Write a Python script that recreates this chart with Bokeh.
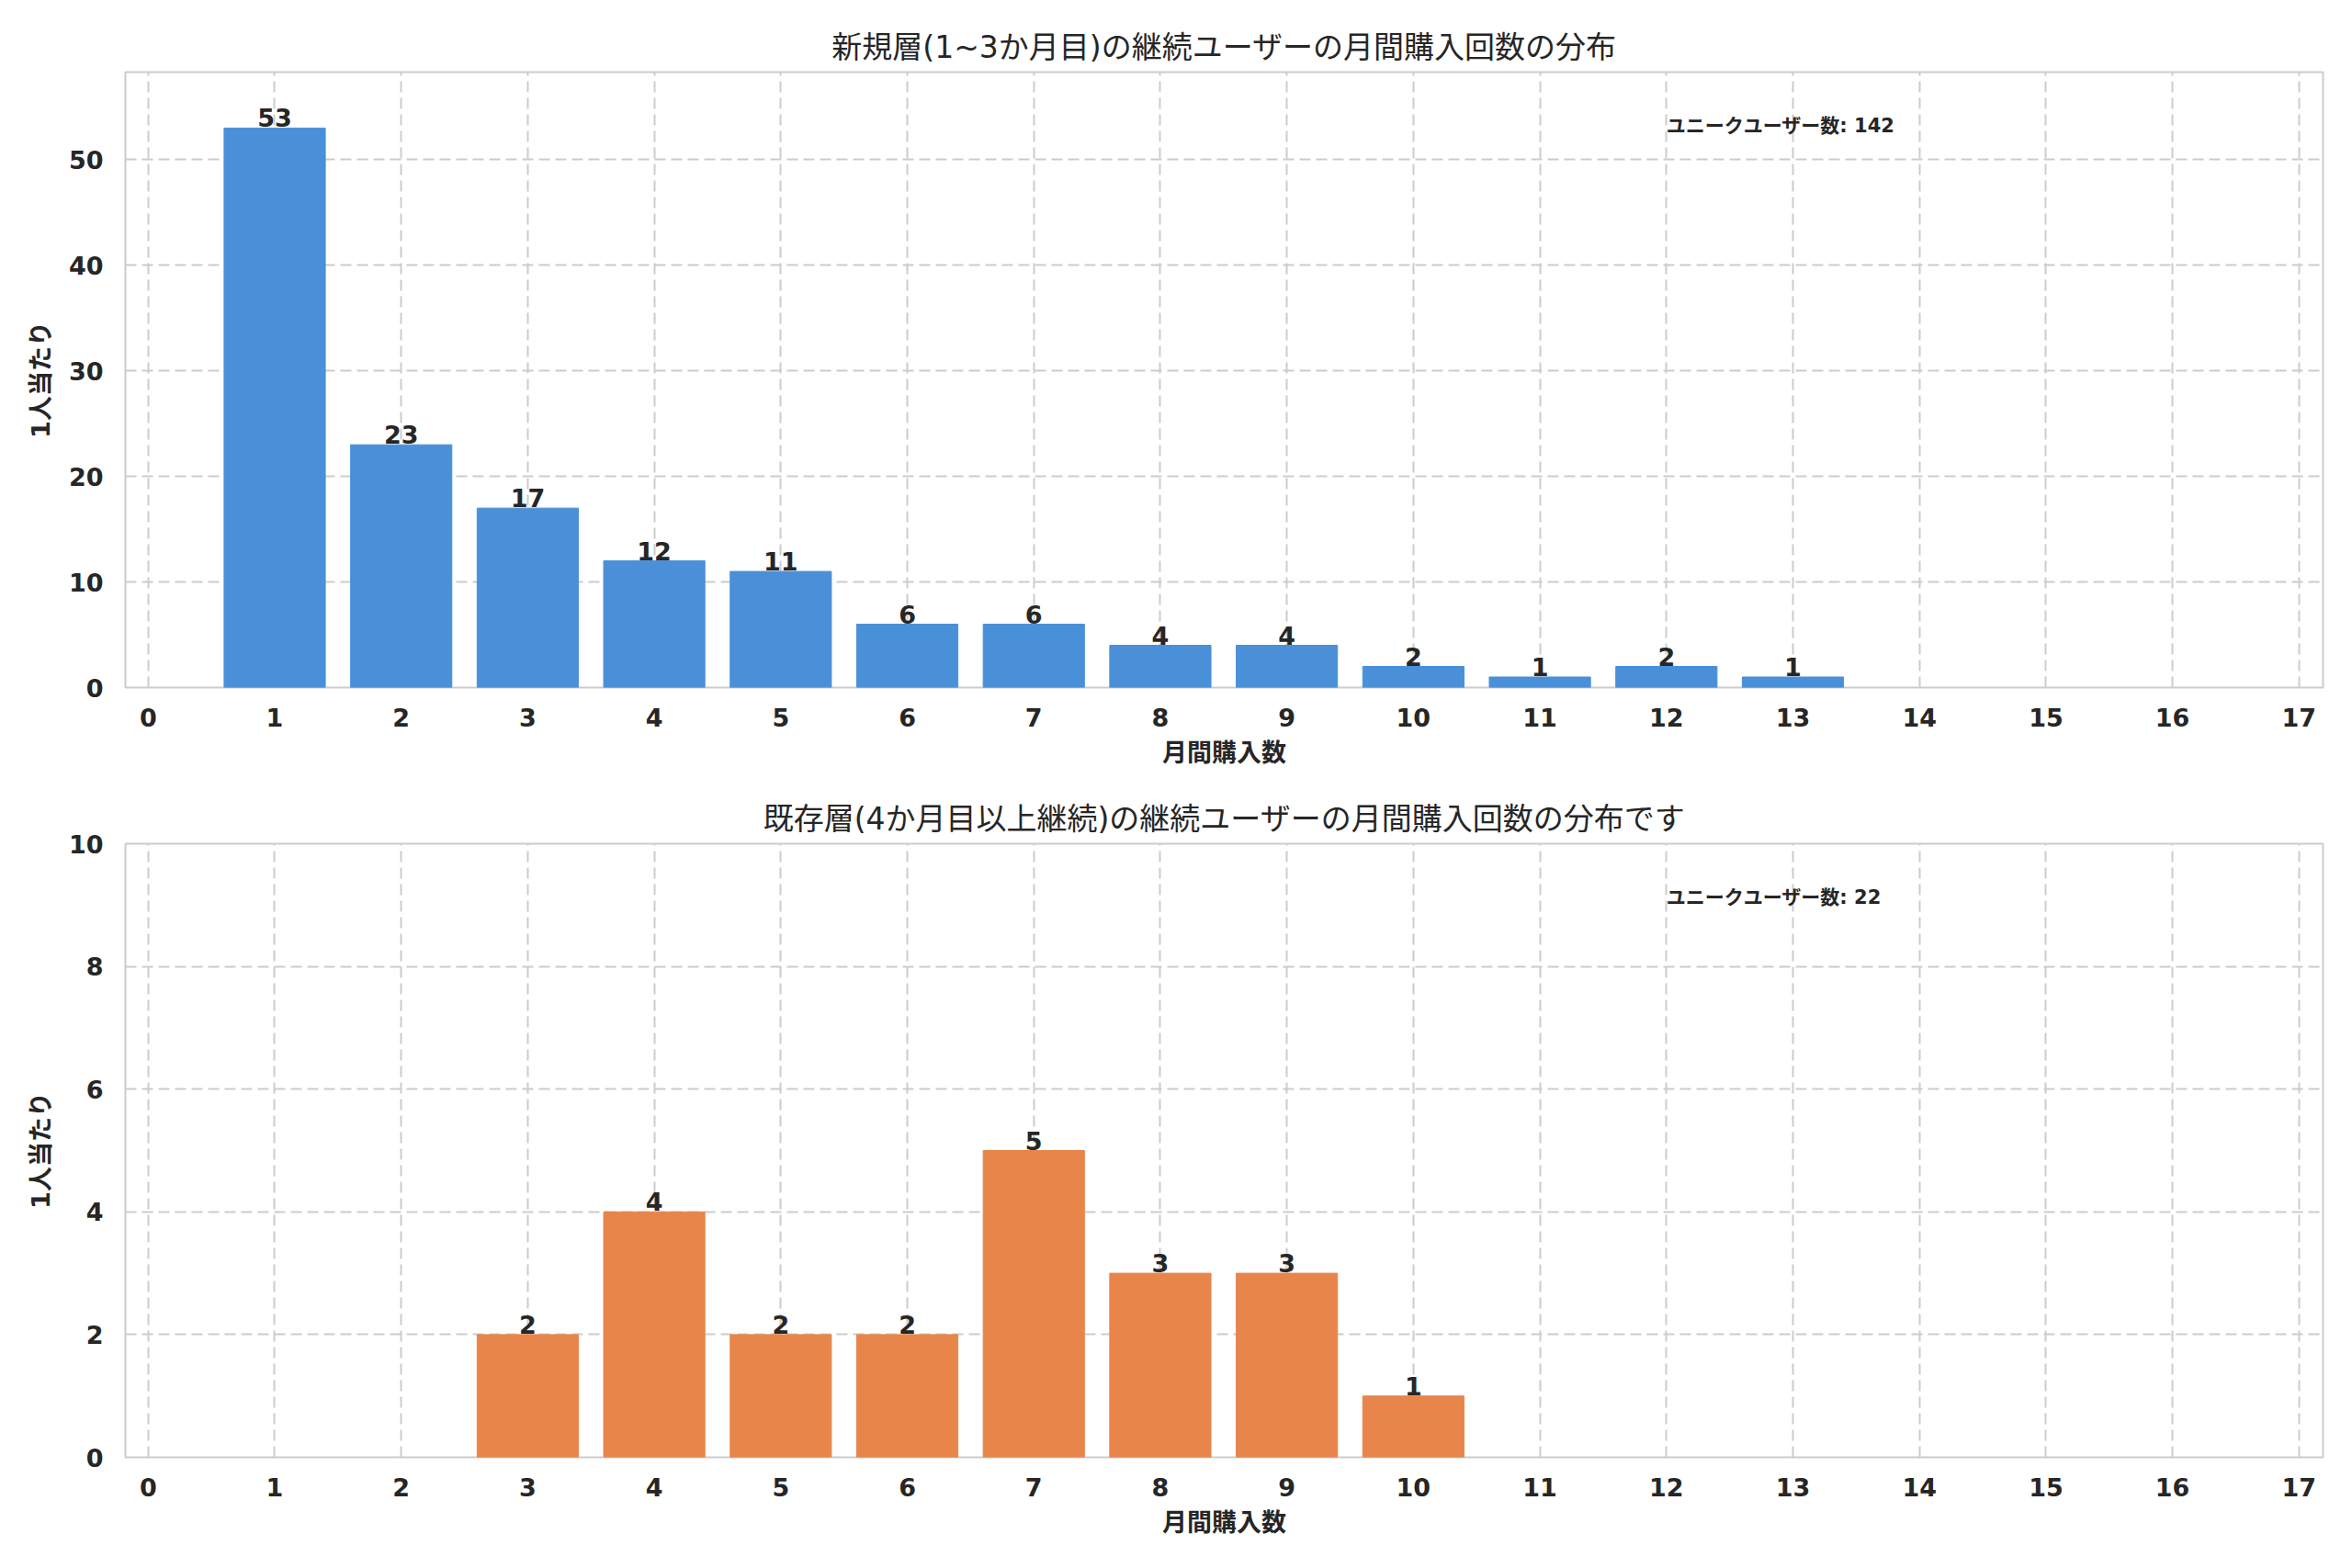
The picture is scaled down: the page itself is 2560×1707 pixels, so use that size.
from bokeh.plotting import figure
from bokeh.layouts import column
from bokeh.models import ColumnDataSource, FixedTicker, Range1d
from bokeh.embed import file_html
from bokeh.resources import INLINE
from bokeh.core.properties import value

# ---- data ----
top_counts = [1, 2, 3, 4, 5, 6, 7, 8, 9, 10, 11, 12, 13]
top_users = [53, 23, 17, 12, 11, 6, 6, 4, 4, 2, 1, 2, 1]
bottom_counts = [3, 4, 5, 6, 7, 8, 9, 10]
bottom_users = [2, 4, 2, 2, 5, 3, 3, 1]
x_ticks = list(range(0, 18))
top_y_ticks = [0, 10, 20, 30, 40, 50]
bottom_y_ticks = [0, 2, 4, 6, 8, 10]
title_top = "新規層(1~3か月目)の継続ユーザーの月間購入回数の分布"
title_bottom = "既存層(4か月目以上継続)の継続ユーザーの月間購入回数の分布です"
x_label = "月間購入数"
y_label = "1人当たり"
total_label = "ユニークユーザー数"

FONT = "DejaVu Sans, Noto Sans CJK JP"
TXT = "#262626"
GRID = "#cccccc"


def make_fig(counts, users, color, title, yticks, ymax, height, top, bottom):
    p = figure(width=2552, height=height, output_backend="svg", toolbar_location=None,
               x_range=Range1d(-0.18, 17.19), y_range=Range1d(0, ymax),
               min_border_left=136, min_border_right=24,
               min_border_top=top, min_border_bottom=bottom)
    p.background_fill_color = "white"
    p.border_fill_color = "white"
    p.outline_line_color = GRID
    p.outline_line_width = 2
    p.title.text = title
    p.title.align = "center"
    p.title.text_font = FONT
    p.title.text_font_size = "33px"
    p.title.text_font_style = "normal"
    p.title.text_color = TXT
    p.title.standoff = 15

    for ax in (p.xaxis[0], p.yaxis[0]):
        ax.major_tick_line_color = None
        ax.minor_tick_line_color = None
        ax.axis_line_color = None
        ax.major_label_text_font = FONT
        ax.major_label_text_font_style = "bold"
        ax.major_label_text_font_size = "27px"
        ax.major_label_text_color = TXT
        ax.axis_label_text_font = FONT
        ax.axis_label_text_font_style = "bold"
        ax.axis_label_text_font_size = "27px"
        ax.axis_label_text_color = TXT
    p.xaxis.ticker = FixedTicker(ticks=x_ticks)
    p.yaxis.ticker = FixedTicker(ticks=yticks)
    p.xaxis.major_label_standoff = 16
    p.yaxis.major_label_standoff = 18
    p.xaxis.axis_label = x_label
    p.yaxis.axis_label = y_label
    p.xaxis.axis_label_standoff = 10
    p.yaxis.axis_label_standoff = 12

    for g in (p.xgrid[0], p.ygrid[0]):
        g.grid_line_color = GRID
        g.grid_line_width = 2
        g.grid_line_dash = "12 6"

    src = ColumnDataSource(dict(x=counts, top=users, lab=[str(u) for u in users]))
    p.vbar(x="x", top="top", width=0.8, bottom=0, source=src,
           fill_color=color, line_color=color, line_width=1)
    p.text(x="x", y="top", text="lab", source=src, text_align="center",
           text_baseline="bottom", y_offset=-1, text_font=value("DejaVu Sans"),
           text_font_style="bold", text_font_size="27px", text_color=TXT)
    total = sum(users)
    p.text(x=[12.0], y=[ymax * 0.912], text=[f"{total_label}: {total}"],
           text_align="left", text_baseline="middle", text_font=value(FONT),
           text_font_style="bold", text_font_size="21px", text_color=TXT)
    return p


p1 = make_fig(top_counts, top_users, "#4A90D9", title_top, top_y_ticks, 58.3, 853, 78, 105)
p2 = make_fig(bottom_counts, bottom_users, "#E8854B", title_bottom, bottom_y_ticks, 10, 852, 65, 119)

layout = column(p1, p2, spacing=0)
open("out.html", "w").write(file_html(layout, INLINE))
